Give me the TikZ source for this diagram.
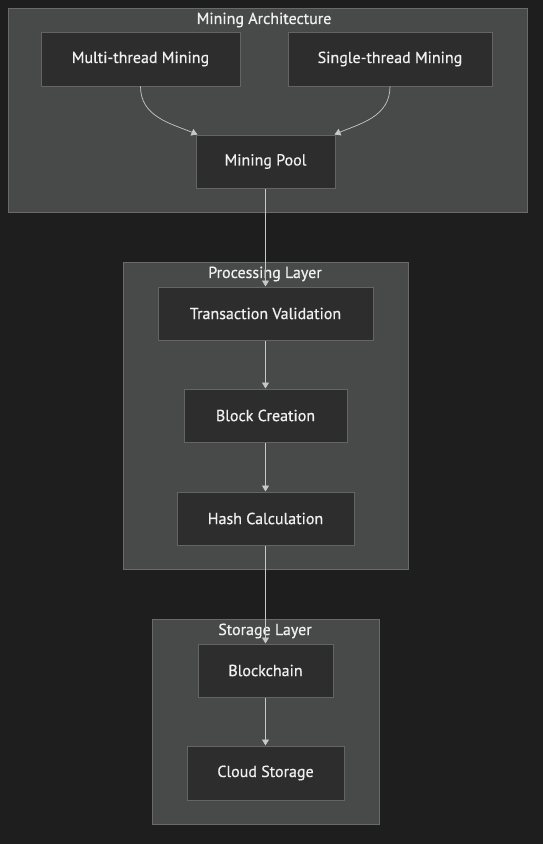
\documentclass[tikz,border=0pt]{standalone}
\usepackage{fontspec}
\setmainfont{PT Sans}
\newfontfamily\lblfont{PT Sans}[FakeBold=0.6]
\usetikzlibrary{arrows.meta,calc}
\definecolor{bgc}{HTML}{1E1E1E}
\definecolor{clfill}{HTML}{484A49}
\definecolor{cldraw}{HTML}{6A6A6A}
\definecolor{ndfill}{HTML}{2D2D2D}
\definecolor{nddraw}{HTML}{646464}
\definecolor{edgec}{HTML}{C8C8C8}
\definecolor{txtc}{HTML}{F0F0F0}
\tikzset{
  cluster/.style={draw=cldraw, fill=clfill, line width=0.9pt},
  cltitle/.style={text=txtc, font=\lblfont\fontsize{16}{18}\selectfont, inner sep=0pt},
  box/.style={draw=nddraw, fill=ndfill, line width=1pt, text=txtc, font=\lblfont\fontsize{16}{18}\selectfont, inner sep=0pt},
  edge/.style={draw=edgec, line width=0.7pt, -{Triangle[length=6pt,width=7pt]}},
}
\begin{document}
\begin{tikzpicture}[x=1pt,y=-1pt]
\fill[bgc] (0,0) rectangle (543,844);
\useasboundingbox (0,0) rectangle (543,844);
% clusters
\draw[cluster] (8,8) rectangle (527,212);
\node[cltitle] (t1) at (264,20) {Mining Architecture};
\draw[cluster] (123,262) rectangle (408,569);
\node[cltitle] (t2) at (265,274) {Processing Layer};
\draw[cluster] (152,619) rectangle (379,824);
\node[cltitle] (t3) at (265,631) {Storage Layer};
% nodes
\node[box, minimum width=199pt, minimum height=54pt] (multi) at (140.5,59) {Multi-thread Mining};
\node[box, minimum width=204pt, minimum height=54pt] (single) at (390,59) {Single-thread Mining};
\node[box, minimum width=139pt, minimum height=53pt] (pool) at (265.5,161.5) {Mining Pool};
\node[box, minimum width=215pt, minimum height=53pt] (tv) at (265.5,313.5) {Transaction Validation};
\node[box, minimum width=163pt, minimum height=53pt] (bc) at (265.5,415.5) {Block Creation};
\node[box, minimum width=177pt, minimum height=53pt] (hc) at (265.5,518.5) {Hash Calculation};
\node[box, minimum width=135pt, minimum height=53pt] (chain) at (265.5,670.5) {Blockchain};
\node[box, minimum width=157pt, minimum height=54pt] (cloud) at (265.5,773) {Cloud Storage};
% edges
\draw[edge] (multi.south) .. controls ($(multi.south)+(0,30)$) and ($(pool.north west)+(-25,-11)$) .. ($(pool.north west)+(2,0)$);
\draw[edge] (single.south) .. controls ($(single.south)+(0,30)$) and ($(pool.north east)+(25,-11)$) .. ($(pool.north east)+(-1,0)$);
\draw[edge] (pool.south) -- (tv.north);
\draw[edge] (tv.south) -- (bc.north);
\draw[edge] (bc.south) -- (hc.north);
\draw[edge] (hc.south) -- (chain.north);
\draw[edge] (chain.south) -- (cloud.north);
\end{tikzpicture}
\end{document}
